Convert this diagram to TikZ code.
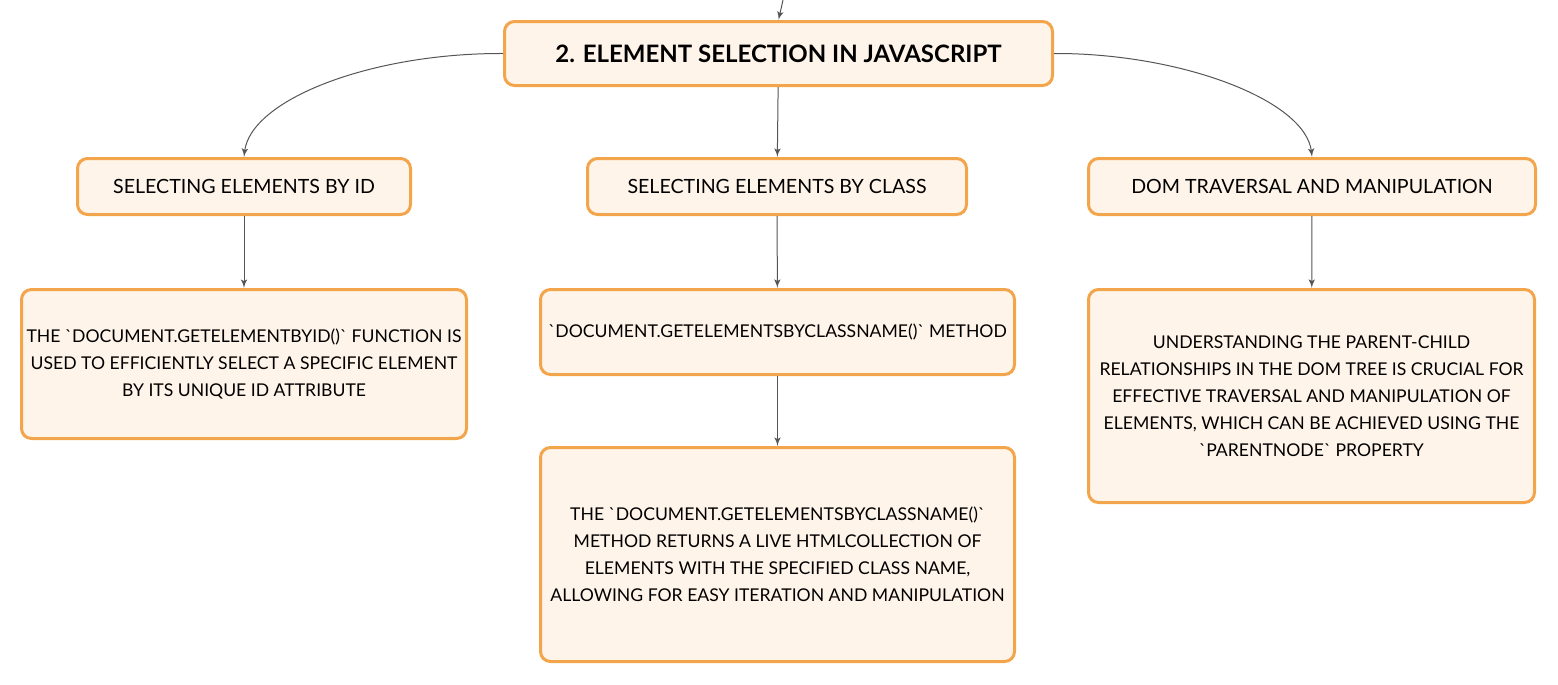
\documentclass[tikz,border=0pt]{standalone}
\usepackage{fontspec}
\setmainfont{Lato}[Ligatures=TeXOff]
\usepackage{tikz}
\usetikzlibrary{shapes,arrows}
\definecolor{boxfill}{HTML}{FFF4E9}
\definecolor{boxline}{HTML}{F3A54C}
\definecolor{linkgray}{HTML}{555555}
\tikzstyle{block} = [rectangle, draw=boxline, fill=boxfill, line width=1.5pt, inner xsep=1pt,
text centered, align=center, rounded corners=5pt, font=\fontsize{8.8}{13.5}\selectfont]
\tikzstyle{branch} = [block, font=\fontsize{9.8}{13.5}\selectfont]
\tikzstyle{title} = [block, font=\fontsize{12}{14}\selectfont\bfseries]
\tikzstyle{line} = [draw, linkgray, line width=0.5pt, -latex']

\begin{document}
\begin{tikzpicture}[x=0.5pt, y=-0.5pt]
\useasboundingbox (0,0) rectangle (1558,685);
% Place nodes
\node [title, minimum width=274pt, minimum height=32pt] (selection) at (778.5,53.5) {2. ELEMENT SELECTION IN JAVASCRIPT};
\node [branch, minimum width=166.5pt, minimum height=28pt] (byid) at (244,186.5) {SELECTING ELEMENTS BY ID};
\node [branch, minimum width=189.5pt, minimum height=28pt] (byclass) at (777,186.5) {SELECTING ELEMENTS BY CLASS};
\node [branch, minimum width=223.5pt, minimum height=28pt] (traversal) at (1312,186.5) {DOM TRAVERSAL AND MANIPULATION};
\node [block, minimum width=222.5pt, minimum height=74.5pt] (byiddesc) at (244,364)
{THE `DOCUMENT.GETELEMENTBYID()` FUNCTION IS\\USED TO EFFICIENTLY SELECT A SPECIFIC ELEMENT\\BY ITS UNIQUE ID ATTRIBUTE};
\node [block, minimum width=237pt, minimum height=42.5pt] (classmethod) at (777.5,332)
{`DOCUMENT.GETELEMENTSBYCLASSNAME()` METHOD};
\node [block, minimum width=237pt, minimum height=107pt] (classdesc) at (777.5,554.5)
{THE `DOCUMENT.GETELEMENTSBYCLASSNAME()`\\METHOD RETURNS A LIVE HTMLCOLLECTION OF\\ELEMENTS WITH THE SPECIFIED CLASS NAME,\\ALLOWING FOR EASY ITERATION AND MANIPULATION};
\node [block, minimum width=223pt, minimum height=106.5pt] (traversaldesc) at (1311.5,396)
{UNDERSTANDING THE PARENT-CHILD\\RELATIONSHIPS IN THE DOM TREE IS CRUCIAL FOR\\EFFECTIVE TRAVERSAL AND MANIPULATION OF\\ELEMENTS, WHICH CAN BE ACHIEVED USING THE\\`PARENTNODE` PROPERTY};
\coordinate (incoming) at (783,0);
% Connect
\path [line] (incoming) -- (selection.north);
\path [line] (selection.west) .. controls (370,53) and (250,100) .. (byid.north);
\path [line] (selection) -- (byclass);
\path [line] (selection.east) .. controls (1180,53) and (1306,100) .. (traversal.north);
\path [line] (byid) -- (byiddesc);
\path [line] (byclass) -- (classmethod);
\path [line] (classmethod) -- (classdesc);
\path [line] (traversal) -- (traversaldesc);
\end{tikzpicture}
\end{document}
